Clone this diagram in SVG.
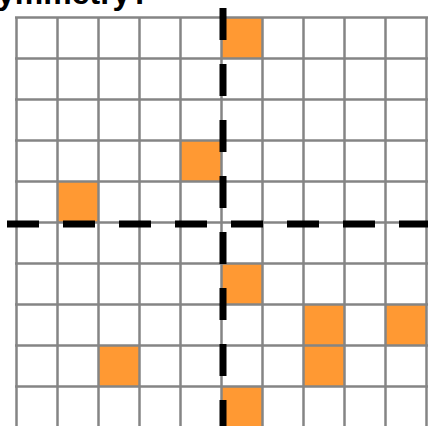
<svg xmlns="http://www.w3.org/2000/svg" width="428" height="426" viewBox="0 0 428 426">
<style>
.cell{fill:#ff9933;}
.grid{stroke:#858585;stroke-width:2.5;fill:none;}
.axis{stroke:#000;stroke-width:7;stroke-dasharray:32 24;fill:none;}
.title{font-family:"Liberation Sans",Arial,sans-serif;font-weight:bold;font-size:32px;fill:#000;}
</style>
<rect width="428" height="426" fill="#fff"/>
<text class="title" x="-3" y="4">ymmetry?</text>
<g id="cells">
<rect id="c5-0" class="cell" x="222" y="18" width="41" height="41"/>
<rect id="c4-3" class="cell" x="181" y="141" width="41" height="41"/>
<rect id="c1-4" class="cell" x="57" y="182" width="41" height="41"/>
<rect id="c5-6" class="cell" x="222" y="264" width="41" height="41"/>
<rect id="c7-7" class="cell" x="304" y="305" width="41" height="41"/>
<rect id="c9-7" class="cell" x="386" y="305" width="41" height="41"/>
<rect id="c2-8" class="cell" x="98" y="346" width="41" height="41"/>
<rect id="c7-8" class="cell" x="304" y="346" width="41" height="41"/>
<rect id="c5-9" class="cell" x="222" y="387" width="41" height="41"/>
</g>
<g id="grid" class="grid">
<path d="M16.5 17.5V428M57.5 17.5V428M98.5 17.5V428M139.5 17.5V428M180.5 17.5V428M221.5 17.5V428M262.5 17.5V428M303.5 17.5V428M344.5 17.5V428M385.5 17.5V428M426.5 17.5V428"/>
<path d="M15 17.5H428M15 58.5H428M15 99.5H428M15 140.5H428M15 181.5H428M15 222.5H428M15 263.5H428M15 304.5H428M15 345.5H428M15 386.5H428"/>
</g>
<g id="connectors">
<line id="v-axis" class="axis" x1="223" y1="8" x2="223" y2="426"/>
<line id="h-axis" class="axis" x1="7" y1="224" x2="428" y2="224"/>
</g>
</svg>
